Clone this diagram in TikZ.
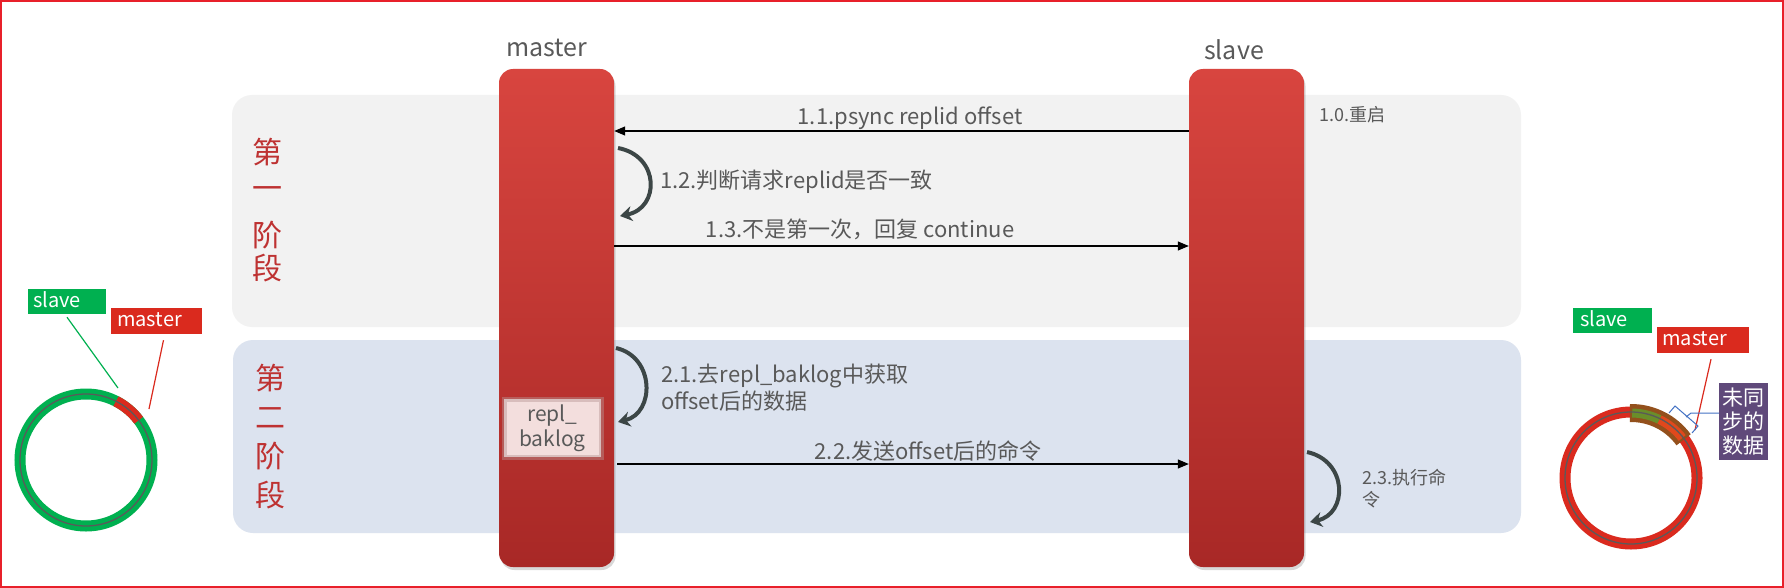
\documentclass[tikz,border=0pt]{standalone}
\usepackage{fontspec}
\setmainfont{Noto Sans CJK SC}
\usetikzlibrary{arrows.meta,shadows,calc}
\definecolor{pillartop}{HTML}{D8453F}
\definecolor{pillarbot}{HTML}{A82826}
\definecolor{phaseone}{HTML}{F2F2F2}
\definecolor{phasetwo}{HTML}{DCE3EF}
\definecolor{labelgray}{HTML}{595959}
\definecolor{phasered}{HTML}{BE3232}
\definecolor{loopgray}{HTML}{3C4646}
\definecolor{ringgreen}{HTML}{00B050}
\definecolor{ringred}{HTML}{DA2A1E}
\definecolor{ringline}{HTML}{5A5A5A}
\definecolor{bandbrown}{HTML}{93501C}
\definecolor{bandgreen}{HTML}{6A8E2A}
\definecolor{bandred}{HTML}{E0481C}
\definecolor{bracketblue}{HTML}{4472C4}
\definecolor{purplebox}{HTML}{5F497A}
\definecolor{frame}{HTML}{E8202A}
\definecolor{bakfill}{HTML}{F3DEDD}
\definecolor{bakedge}{HTML}{B89594}
\begin{document}
\begin{tikzpicture}[x=1pt,y=-1pt,
  txt/.style={inner sep=0pt, text=labelgray},
  pillar/.style={rounded corners=14pt, top color=pillartop, bottom color=pillarbot,
    draw=none, minimum width=115pt, minimum height=498pt, inner sep=0pt,
    drop shadow={shadow xshift=1.5pt,shadow yshift=-3pt,opacity=0.3,fill=gray}},
  msg/.style={line width=1.2pt, draw=black, -{Triangle[length=11pt,width=9pt]}},
  loopar/.style={line width=4pt, draw=loopgray, -{Stealth[length=12pt,width=15pt]}},
  phase/.style={rounded corners=20pt, draw=none, inner sep=0pt},
  phaselbl/.style={inner sep=0pt, text=phasered, align=center},
  tag/.style={inner sep=0pt, text=white, anchor=west}
]
\useasboundingbox (0,0) rectangle (1784,588);
\fill[white] (0,0) rectangle (1784,588);

% phase panels
\node[phase, fill=phaseone, minimum width=1289pt, minimum height=232pt] (p1) at (876.5,211) {};
\node[phase, fill=phasetwo, minimum width=1288pt, minimum height=193pt] (p2) at (877,436.5) {};

\node[phaselbl, font=\fontsize{30}{36}\selectfont] (p1lbl) at (267,210) {第\\一\\[11pt]阶\\[-3pt]段};
\node[phaselbl, font=\fontsize{30}{39}\selectfont] (p2lbl) at (270,437) {第\\二\\阶\\段};

% pillars
\node[pillar] (master) at (556.5,318) {};
\node[pillar] (slave) at (1246.5,318) {};
\node[txt, font=\fontsize{25}{30}\selectfont] (mlbl) at (547,48) {master};
\node[txt, font=\fontsize{25}{30}\selectfont] (slbl) at (1234,50) {slave};

% repl_baklog
\node[fill=bakfill, draw=bakedge, draw opacity=0.45, line width=5pt, minimum width=97pt, minimum height=58pt,
  inner sep=0pt, align=center, text=labelgray, font=\fontsize{21}{25}\selectfont] (bak) at (552.5,428) {repl\_\\baklog};

% message rows
\coordinate (y11) at (0,131);
\coordinate (y13) at (0,246);
\coordinate (y22) at (0,464);
\draw[msg] (slave.west |- y11) -- (master.east |- y11);
\draw[msg] (master.east |- y13) -- (slave.west |- y13);
\draw[msg] ([xshift=3pt]master.east |- y22) -- (slave.west |- y22);

\node[txt, font=\fontsize{22}{26}\selectfont] (l11) at (910,118) {1.1.psync replid offset};
\node[txt, font=\fontsize{22}{26}\selectfont] (l13) at (860,229) {1.3.不是第一次，回复 continue};
\node[txt, font=\fontsize{22}{26}\selectfont] (l22) at (928,451) {2.2.发送offset后的命令};
\node[txt, anchor=west, font=\fontsize{22}{26}\selectfont] (l12) at (660,182) {1.2.判断请求replid是否一致};
\node[txt, anchor=west, align=left, font=\fontsize{22}{27}\selectfont] (l21) at (661,388) {2.1.去repl\_baklog中获取\\offset后的数据};
\node[txt, anchor=west, font=\fontsize{18}{22}\selectfont] (l10) at (1319,115) {1.0.重启};
\node[txt, anchor=west, align=left, font=\fontsize{18}{22}\selectfont] (l23) at (1362,489) {2.3.执行命\\令};

% self loops
\coordinate (a12s) at (618,148); \coordinate (a12e) at (620,216);
\coordinate (a21s) at (616,348); \coordinate (a21e) at (618,422);
\coordinate (a23s) at (1307,452); \coordinate (a23e) at (1310,522);
\draw[loopar] (a12s) .. controls (660,156) and (660,208) .. (a12e);
\draw[loopar] (a21s) .. controls (655,357) and (655,413) .. (a21e);
\draw[loopar] (a23s) .. controls (1348,461) and (1348,514) .. (a23e);

% left ring
\coordinate (lc) at (86,460);
\draw[ringgreen, line width=11pt] (lc) circle[radius=66pt];
\draw[ringred, line width=11pt] ($(lc)+(37:66pt)$) arc[start angle=37, end angle=63, radius=66pt];
\draw[ringline, line width=1.3pt] (lc) circle[radius=66pt];
\node[fill=ringgreen, minimum width=78pt, minimum height=25pt, inner sep=0pt] (lsbox) at (67,301.5) {};
\node[tag, font=\fontsize{20}{24}\selectfont] (lstxt) at (33,300) {slave};
\node[fill=ringred, minimum width=91pt, minimum height=26pt, inner sep=0pt] (lmbox) at (156.5,321) {};
\node[tag, font=\fontsize{20}{24}\selectfont] (lmtxt) at (117,320) {master};
\coordinate (lsend) at (118,388);
\coordinate (lmend) at (149,409);
\draw[ringgreen, line width=1.2pt] (lsbox.south) ++(0,3) -- (lsend);
\draw[ringred, line width=1.2pt] (lmbox.south) ++(7,6) -- (lmend);

% right ring
\coordinate (rc) at (1631,478);
\draw[ringred, line width=11pt] (rc) circle[radius=66pt];
\draw[bandbrown, line width=18pt] ($(rc)+(36:65pt)$) arc[start angle=36, end angle=91, radius=65pt];
\draw[bandgreen, line width=9pt] ($(rc)+(64:65pt)$) arc[start angle=64, end angle=89, radius=65pt];
\draw[bandred, line width=9pt] ($(rc)+(38:65pt)$) arc[start angle=38, end angle=64, radius=65pt];
\draw[ringline, line width=1.3pt] (rc) circle[radius=66pt];
\node[fill=ringgreen, minimum width=79pt, minimum height=25pt, inner sep=0pt] (rsbox) at (1612.5,320.5) {};
\node[tag, font=\fontsize{20}{24}\selectfont] (rstxt) at (1580,319) {slave};
\node[fill=ringred, minimum width=92pt, minimum height=26pt, inner sep=0pt] (rmbox) at (1703,340) {};
\node[tag, font=\fontsize{20}{24}\selectfont] (rmtxt) at (1662,339) {master};
\coordinate (rmend) at (1695,430);
\draw[ringred, line width=1.2pt] (rmbox.south) ++(8,6) -- (rmend);
\node[fill=purplebox, minimum width=49pt, minimum height=77pt, inner sep=0pt, text=white,
  align=center, font=\fontsize{21}{24}\selectfont] (udata) at (1743.5,421.5) {未同\\步的\\数据};
\coordinate (brmid) at (1691,413);
\draw[bracketblue, line width=1pt] (1669,413) -- (1675,406) -- (1698,426) -- (1692,433);
\draw[bracketblue, line width=1pt] (1686,417) -- (brmid) -- (udata.west |- brmid);

% frame
\draw[frame, line width=2pt] (1,1) rectangle (1783,587);
\end{tikzpicture}
\end{document}
